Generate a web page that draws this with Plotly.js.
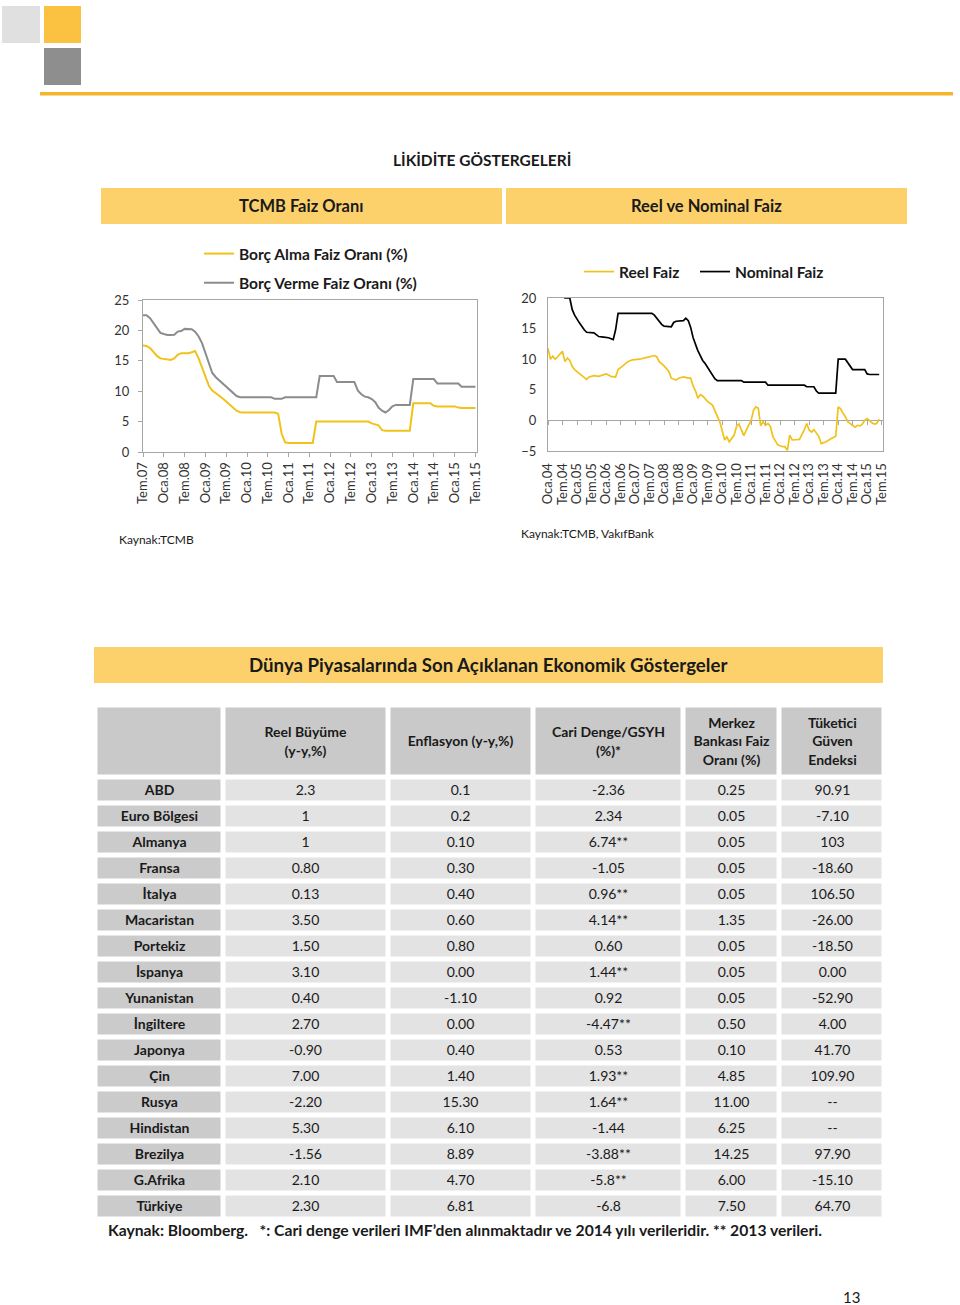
<!DOCTYPE html>
<html>
<head>
<meta charset="utf-8">
<script src="https://cdn.plot.ly/plotly-3.0.1.min.js"></script>
<style>
html,body{margin:0;padding:0;background:#fff;}
#page{width:960px;height:1305px;}
</style>
</head>
<body>
<div id="page"></div>
<script>
// ---------- DATA ----------
// TCMB Faiz Oranı (left chart)
const borcAlmaDates = ['2007-07','2007-08','2007-09','2007-10','2007-11','2007-12','2008-01','2008-02','2008-03','2008-04','2008-05','2008-06','2008-08','2008-09','2008-10','2008-11','2008-12','2009-01','2009-02','2009-03','2009-04','2009-05','2009-06','2009-07','2009-08','2009-09','2009-10','2009-11','2009-12','2010-09','2010-10','2010-11','2010-12','2011-01','2011-08','2011-09','2012-12','2013-01','2013-02','2013-03','2013-04','2013-05','2013-12','2014-01','2014-06','2014-07','2014-08','2015-01','2015-02','2015-03','2015-07'];
const borcAlmaValues = [17.5,17.45,17.1,16.4,15.8,15.4,15.3,15.15,15.15,15.4,16.0,16.25,16.25,16.4,16.6,15.4,13.8,12.1,10.8,10.1,9.7,9.2,8.8,8.3,7.8,7.2,6.8,6.55,6.5,6.5,6.3,3.0,1.6,1.5,1.5,5.0,5.0,4.7,4.5,4.4,3.6,3.5,3.5,8.0,8.0,7.6,7.5,7.5,7.3,7.25,7.25];

const borcVermeDates = ['2007-07','2007-08','2007-09','2007-10','2007-11','2007-12','2008-01','2008-02','2008-03','2008-04','2008-05','2008-06','2008-07','2008-08','2008-09','2008-10','2008-11','2008-12','2009-01','2009-02','2009-03','2009-04','2009-05','2009-06','2009-07','2009-08','2009-09','2009-10','2009-11','2010-08','2010-09','2010-11','2010-12','2011-09','2011-10','2012-02','2012-03','2012-08','2012-09','2012-10','2012-11','2012-12','2013-01','2013-02','2013-03','2013-04','2013-05','2013-06','2013-07','2013-08','2013-12','2014-01','2014-07','2014-08','2015-02','2015-03','2015-07'];
const borcVermeValues = [22.5,22.5,22.0,21.2,20.2,19.6,19.4,19.25,19.25,19.3,19.8,19.9,20.25,20.25,20.2,19.8,19.0,17.9,16.2,14.3,13.0,12.3,11.8,11.2,10.8,10.2,9.7,9.2,9.0,9.0,8.75,8.75,9.0,9.0,12.5,12.5,11.5,11.5,10.1,9.5,9.1,9.0,8.7,8.2,7.3,6.8,6.5,6.9,7.5,7.75,7.75,12.0,12.0,11.25,11.25,10.75,10.75];

const leftTickVals = ['2007-07-01','2008-01-01','2008-07-01','2009-01-01','2009-07-01','2010-01-01','2010-07-01','2011-01-01','2011-07-01','2012-01-01','2012-07-01','2013-01-01','2013-07-01','2014-01-01','2014-07-01','2015-01-01','2015-07-01'];
const leftTickText = ['Tem.07','Oca.08','Tem.08','Oca.09','Tem.09','Oca.10','Tem.10','Oca.11','Tem.11','Oca.12','Tem.12','Oca.13','Tem.13','Oca.14','Tem.14','Oca.15','Tem.15'];

// Reel ve Nominal Faiz (right chart)
const reelDates = ['2004-01','2004-02','2004-03','2004-04','2004-05','2004-06','2004-07','2004-08','2004-09','2004-10','2004-11','2004-12','2005-01','2005-03','2005-05','2005-06','2005-08','2005-10','2005-11','2006-01','2006-02','2006-03','2006-05','2006-06','2006-08','2006-10','2006-12','2007-03','2007-06','2007-08','2007-09','2007-10','2007-11','2008-01','2008-03','2008-04','2008-05','2008-06','2008-07','2008-09','2008-11','2008-12','2009-01','2009-02','2009-03','2009-04','2009-05','2009-07','2009-09','2009-10','2009-11','2009-12','2010-01','2010-02','2010-03','2010-04','2010-06','2010-07','2010-08','2010-09','2010-10','2010-11','2011-01','2011-02','2011-03','2011-04','2011-05','2011-06','2011-07','2011-08','2011-09','2011-10','2011-12','2012-02','2012-03','2012-04','2012-05','2012-06','2012-09','2012-11','2012-12','2013-01','2013-02','2013-03','2013-05','2013-06','2013-08','2013-10','2013-12','2014-01','2014-02','2014-03','2014-04','2014-05','2014-07','2014-08','2014-09','2014-10','2014-11','2014-12','2015-01','2015-02','2015-03','2015-04','2015-05','2015-06'];
const reelValues = [11.8,10.0,10.5,10.0,10.4,10.9,11.3,9.6,10.2,9.8,8.8,8.3,8.0,7.3,6.7,7.1,7.3,7.2,7.3,7.6,7.4,7.2,7.1,8.3,8.9,9.6,9.9,10.0,10.3,10.5,10.6,10.4,9.6,8.9,8.0,6.9,6.7,6.6,6.9,7.1,6.9,6.9,5.6,4.8,3.6,4.2,4.0,3.1,2.5,1.7,0.6,-0.2,-1.6,-3.2,-2.7,-3.5,-2.4,-1.0,-0.6,-1.6,-2.5,-1.6,0.0,1.7,2.2,2.0,-0.9,-0.2,-0.8,-0.5,-1.0,-2.6,-4.0,-4.3,-4.3,-4.9,-2.4,-3.2,-3.1,-1.5,-0.5,-1.6,-1.9,-1.5,-2.6,-3.8,-3.5,-3.0,-2.6,2.2,1.9,1.2,0.6,-0.2,-0.9,-1.1,-0.8,-0.9,-0.6,0.0,0.3,-0.1,-0.4,-0.6,-0.5,0.2];

const nominalDates = ['2004-01','2004-03','2004-05','2004-07','2004-08','2004-10','2004-11','2004-12','2005-01','2005-02','2005-04','2005-05','2005-08','2005-10','2005-12','2006-02','2006-04','2006-05','2006-06','2007-08','2007-09','2007-10','2007-11','2007-12','2008-01','2008-04','2008-05','2008-06','2008-09','2008-10','2008-11','2008-12','2009-01','2009-02','2009-03','2009-04','2009-05','2009-06','2009-07','2009-08','2009-09','2009-10','2009-11','2010-09','2010-10','2011-07','2011-08','2012-11','2012-12','2013-03','2013-04','2013-05','2013-12','2014-01','2014-04','2014-05','2014-06','2014-07','2014-12','2015-01','2015-02','2015-06'];
const nominalValues = [26,25,23,21,20,20,18.1,17.2,16.5,15.9,14.8,14.4,14.3,13.7,13.6,13.5,13.2,14.8,17.5,17.5,17.2,16.7,16.2,15.7,15.4,15.3,16.0,16.2,16.3,16.7,16.3,15.2,13.5,12.3,11.4,10.6,9.8,9.3,8.7,8.0,7.3,6.8,6.5,6.5,6.25,6.25,5.75,5.75,5.5,5.5,4.8,4.45,4.45,10.0,10.0,9.5,8.8,8.3,8.3,7.6,7.5,7.5];

const rightTickVals = ['2004-01-01','2004-07-01','2005-01-01','2005-07-01','2006-01-01','2006-07-01','2007-01-01','2007-07-01','2008-01-01','2008-07-01','2009-01-01','2009-07-01','2010-01-01','2010-07-01','2011-01-01','2011-07-01','2012-01-01','2012-07-01','2013-01-01','2013-07-01','2014-01-01','2014-07-01','2015-01-01','2015-07-01'];
const rightTickText = ['Oca.04','Tem.04','Oca.05','Tem.05','Oca.06','Tem.06','Oca.07','Tem.07','Oca.08','Tem.08','Oca.09','Tem.09','Oca.10','Tem.10','Oca.11','Tem.11','Oca.12','Tem.12','Oca.13','Tem.13','Oca.14','Tem.14','Oca.15','Tem.15'];

// Table: Dünya Piyasalarında Son Açıklanan Ekonomik Göstergeler
const tableHeaders = ['', 'Reel Büyüme<br>(y-y,%)', 'Enflasyon (y-y,%)', 'Cari Denge/GSYH<br>(%)*', 'Merkez<br>Bankası Faiz<br>Oranı (%)', 'Tüketici<br>Güven<br>Endeksi'];
const countries = ['ABD','Euro Bölgesi','Almanya','Fransa','İtalya','Macaristan','Portekiz','İspanya','Yunanistan','İngiltere','Japonya','Çin','Rusya','Hindistan','Brezilya','G.Afrika','Türkiye'];
const reelBuyume = ['2.3','1','1','0.80','0.13','3.50','1.50','3.10','0.40','2.70','-0.90','7.00','-2.20','5.30','-1.56','2.10','2.30'];
const enflasyon = ['0.1','0.2','0.10','0.30','0.40','0.60','0.80','0.00','-1.10','0.00','0.40','1.40','15.30','6.10','8.89','4.70','6.81'];
const cariDenge = ['-2.36','2.34','6.74**','-1.05','0.96**','4.14**','0.60','1.44**','0.92','-4.47**','0.53','1.93**','1.64**','-1.44','-3.88**','-5.8**','-6.8'];
const faizOrani = ['0.25','0.05','0.05','0.05','0.05','1.35','0.05','0.05','0.05','0.50','0.10','4.85','11.00','6.25','14.25','6.00','7.50'];
const guvenEndeksi = ['90.91','-7.10','103','-18.60','106.50','-26.00','-18.50','0.00','-52.90','4.00','41.70','109.90','--','--','97.90','-15.10','64.70'];

// ---------- LAYOUT HELPERS ----------
const W = 960, H = 1305;
const px = v => v / W;
const py = v => 1 - v / H;
const FONT = 'Lato, "Open Sans", "DejaVu Sans", sans-serif';
const TXT = '#1a1a1a';
const YELLOW = '#f1c21b';

function rect(x0, y0, x1, y1, color) {
  return {type:'rect', xref:'paper', yref:'paper', x0:px(x0), x1:px(x1), y0:py(y1), y1:py(y0),
          fillcolor:color, line:{width:0}, layer:'below'};
}
function label(text, x, y, size, bold, xanchor) {
  return {text:text, xref:'paper', yref:'paper', x:px(x), y:py(y), showarrow:false,
          xanchor:xanchor || 'center', yanchor:'middle',
          font:{family:FONT, size:size, color:TXT, weight: bold ? 700 : 400}};
}
function legendBox(x, y, orientation) {
  return {x:px(x), y:py(y), xanchor:'left', yanchor:'top', orientation:orientation, tracegroupgap:6,
          bgcolor:'rgba(0,0,0,0)', font:{family:FONT, size:15.5, color:TXT, weight:700}};
}

// ---------- TABLE GRID (built from the arrays above) ----------
const colWidths = [127.5, 165.5, 144.5, 150.5, 96, 105];   // layout widths (px)
const headerH = 72, rowH = 26;
const colEdges = [0]; colWidths.forEach(w => colEdges.push(colEdges[colEdges.length-1] + w));
const rowEdges = [0, headerH]; countries.forEach(() => rowEdges.push(rowEdges[rowEdges.length-1] + rowH));
const bodyCols = [reelBuyume, enflasyon, cariDenge, faizOrani, guvenEndeksi];
const tableText = [tableHeaders.map(h => '<b>' + h + '</b>')];
const tableClass = [tableHeaders.map(() => 0)];
countries.forEach((c, i) => {
  tableText.push(['<b>' + c + '</b>'].concat(bodyCols.map(col => col[i])));
  tableClass.push([1].concat(bodyCols.map(() => 2)));
});
const tableTop = 705.5, tableLeft = 95.5;
const tableBottom = tableTop + rowEdges[rowEdges.length-1];
const tableRight = tableLeft + colEdges[colEdges.length-1];

const traces = [
  {type:'scatter', mode:'lines', name:'Borç Alma Faiz Oranı (%)', x:borcAlmaDates, y:borcAlmaValues,
   xaxis:'x', yaxis:'y', legend:'legend', legendgroup:'a', line:{color:YELLOW, width:2}, hoverinfo:'skip'},
  {type:'scatter', mode:'lines', name:'Borç Verme Faiz Oranı (%)', x:borcVermeDates, y:borcVermeValues,
   xaxis:'x', yaxis:'y', legend:'legend', legendgroup:'b', line:{color:'#8c8c8c', width:2}, hoverinfo:'skip'},
  {type:'scatter', mode:'lines', name:'Reel Faiz', x:reelDates, y:reelValues,
   xaxis:'x2', yaxis:'y2', legend:'legend2', line:{color:YELLOW, width:1.7}, hoverinfo:'skip'},
  {type:'scatter', mode:'lines', name:'Nominal Faiz', x:nominalDates, y:nominalValues,
   xaxis:'x2', yaxis:'y2', legend:'legend3', line:{color:'#000000', width:1.7}, hoverinfo:'skip'},
  {type:'scatter', mode:'lines', x:['2010-01-01'], y:[null], xaxis:'x3', yaxis:'y2', showlegend:false, hoverinfo:'skip'},
  {type:'heatmap', x:colEdges, y:rowEdges, z:tableClass, text:tableText, texttemplate:'%{text}',
   textfont:{family:FONT, size:14, color:TXT},
   zmin:0, zmax:2, colorscale:[[0,'#c9c9c9'],[0.5,'#cbcbcb'],[1,'#e3e3e3']], showscale:false,
   xgap:5, ygap:5, xaxis:'x4', yaxis:'y4', hoverinfo:'skip', showlegend:false}
];

const axisCommon = {showgrid:false, zeroline:false, showline:true, mirror:true, linecolor:'#a6a6a6', linewidth:1,
                    tickfont:{family:FONT, size:13, color:'#333333'}, fixedrange:true};

const layout = {
  width:W, height:H, margin:{l:0, r:0, t:0, b:0}, paper_bgcolor:'#ffffff', plot_bgcolor:'#ffffff',
  font:{family:FONT, color:TXT},
  showlegend:true,
  xaxis:Object.assign({}, axisCommon, {domain:[px(143), px(477)], anchor:'y', type:'date',
        range:['2007-07-01','2015-07-15'], tickmode:'array', tickvals:leftTickVals, ticktext:leftTickText,
        tickangle:-90, ticks:'outside', ticklen:4, tickcolor:'#a6a6a6'}),
  yaxis:Object.assign({}, axisCommon, {domain:[py(452), py(300)], anchor:'x', range:[0,25], dtick:5, tick0:0,
        ticks:'outside', ticklen:4, tickcolor:'#a6a6a6', ticklabelstandoff:6}),
  xaxis2:Object.assign({}, axisCommon, {domain:[px(548), px(883)], anchor:'y2', type:'date',
        range:['2004-01-01','2015-07-19'], tickmode:'array', tickvals:rightTickVals, ticktext:rightTickText,
        tickangle:-90, ticks:'', ticklabelstandoff:6}),
  yaxis2:Object.assign({}, axisCommon, {domain:[py(451), py(298)], anchor:'x2', range:[-5,20], dtick:5, tick0:0,
        ticks:'', ticklabelstandoff:8, zeroline:true, zerolinecolor:'#a6a6a6', zerolinewidth:1}),
  xaxis3:{overlaying:'x2', anchor:'free', position:py(420.3), type:'date', range:['2004-01-01','2015-07-19'],
        tickmode:'array', tickvals:rightTickVals, showticklabels:false, ticks:'outside', ticklen:4,
        tickcolor:'#a6a6a6', showline:false, showgrid:false, zeroline:false, fixedrange:true},
  xaxis4:{domain:[px(tableLeft), px(tableRight)], anchor:'y4', range:[0, colEdges[colEdges.length-1]],
        visible:false, fixedrange:true},
  yaxis4:{domain:[py(tableBottom), py(tableTop)], anchor:'x4', range:[rowEdges[rowEdges.length-1], 0],
        visible:false, fixedrange:true},
  legend:legendBox(199, 237, 'v'),
  legend2:legendBox(579, 255, 'h'),
  legend3:legendBox(695, 255, 'h'),
  shapes:[
    rect(2, 6, 40, 43, '#e0e0e0'),
    rect(44, 6, 81, 43, '#fbc242'),
    rect(44, 48, 81, 85, '#8e8e8e'),
    rect(40, 92, 953, 95.5, '#f2b52c'),
    rect(101, 188, 502, 224, '#fcd16c'),
    rect(506, 188, 907, 224, '#fcd16c'),
    rect(94, 647, 883, 683, '#fcd16c')
  ],
  annotations:[
    label('LİKİDİTE GÖSTERGELERİ', 482, 160, 15.5, true),
    label('TCMB Faiz Oranı', 301, 206, 16.5, true),
    label('Reel ve Nominal Faiz', 706, 206, 16.5, true),
    label('Kaynak:TCMB', 117, 539, 12, false, 'left'),
    label('Kaynak:TCMB, VakıfBank', 519, 533, 12, false, 'left'),
    label('Dünya Piyasalarında Son Açıklanan Ekonomik Göstergeler', 488, 665, 18.7, true),
    label('Kaynak: Bloomberg.   *: Cari denge verileri IMF’den alınmaktadır ve 2014 yılı verileridir. ** 2013 verileri.', 106, 1230, 15.7, true, 'left'),
    label('13', 851, 1297, 15, false)
  ]
};

Plotly.newPlot('page', traces, layout, {displayModeBar:false, staticPlot:true});
</script>
</body>
</html>
